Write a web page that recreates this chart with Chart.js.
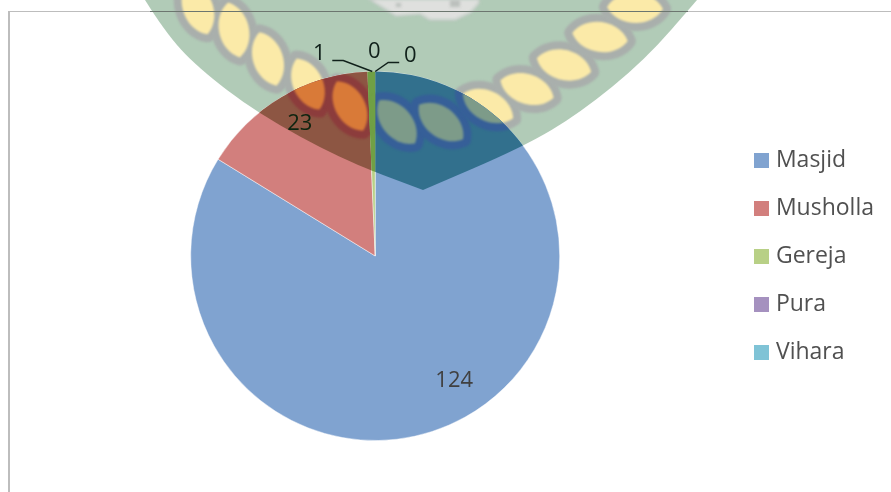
<!DOCTYPE html>
<html>
<head>
<meta charset="utf-8">
<style>
  html, body { margin: 0; padding: 0; background: #fff; }
  #wrap { width: 891px; height: 492px; }
</style>
<script src="https://cdn.jsdelivr.net/npm/chart.js@4/dist/chart.umd.min.js"></script>
</head>
<body>
<div id="wrap"><canvas id="chart" width="891" height="492"></canvas></div>
<script>
// Places of worship by type
const categories = ['Masjid', 'Musholla', 'Gereja', 'Pura', 'Vihara'];
const counts = [124, 23, 1, 0, 0];
const sliceColors = ['#80a3d0', '#d27f7d', '#b8d086', '#a591bf', '#7fc3d6'];

// Value label placement, in pixels from the slice's outer mid point
const labelOffsets = [[-11, -36], [18, 27], [-52, -18], [-1, -20], [35, -16]];
const labelColors = ['#404040', '#0d2410', '#10201a', '#10201a', '#10201a'];
// Leader lines of the thin slices, same reference point
const leaders = [null, null, [[-39, -11], [-28, -11], [1, 0]], null, [[24, -9], [13, -9], [0, 0]]];

// Crest printed across the page
const crestOutline = [
  [145, 0], [165, 32], [197, 67], [257, 113], [343, 160], [423, 190],
  [523, 147], [580, 113], [645, 60], [697, 0]
];
const crestLeaves = [
  [198, 8, 70], [234, 30, 78], [268, 59, 72], [308, 84, 66], [350, 106, 62],
  [397, 122, 50], [441, 122, 38], [488, 106, 26], [527, 89, 18], [564, 65, 14],
  [600, 37, 8], [635, 8, 2]
];
const crestPaper = { body: '#b1cbb7', rope: '#a9afac', leaf: '#fbeaa8' };
const crestTints = [
  { body: '#32708d', rope: '#365f98', leaf: '#7d9b89' },
  { body: '#8d5643', rope: '#8c3c3c', leaf: '#d97a38' },
  { body: '#70a045', rope: '#70a045', leaf: '#70a045' }
];

function crestBodyPath(ctx) {
  ctx.beginPath();
  ctx.moveTo(crestOutline[0][0], crestOutline[0][1]);
  for (let i = 1; i < crestOutline.length - 1; i++) {
    const mx = (crestOutline[i][0] + crestOutline[i + 1][0]) / 2;
    const my = (crestOutline[i][1] + crestOutline[i + 1][1]) / 2;
    if (i === 5) { ctx.lineTo(crestOutline[i][0], crestOutline[i][1]); ctx.lineTo(mx, my); }
    else ctx.quadraticCurveTo(crestOutline[i][0], crestOutline[i][1], mx, my);
  }
  ctx.lineTo(697, 0);
  ctx.closePath();
}

function leafPath(ctx, cx, cy, deg) {
  const a = deg * Math.PI / 180;
  const c = Math.cos(a), s = Math.sin(a);
  const pt = (u, v) => [cx + u * c - v * s, cy + u * s + v * c];
  ctx.beginPath();
  ctx.moveTo(...pt(-28, 0));
  ctx.bezierCurveTo(...pt(-17, -20), ...pt(17, -20), ...pt(28, 0));
  ctx.bezierCurveTo(...pt(17, 20), ...pt(-17, 20), ...pt(-28, 0));
  ctx.closePath();
}

function drawCrest(ctx, tint) {
  ctx.save();
  crestBodyPath(ctx);
  ctx.fillStyle = tint.body;
  ctx.fill();
  crestBodyPath(ctx);
  ctx.clip();
  ctx.filter = 'blur(1.2px)';
  ctx.strokeStyle = tint.rope;
  ctx.lineWidth = 16;
  ctx.lineJoin = 'round';
  for (const [cx, cy, deg] of crestLeaves) {
    leafPath(ctx, cx, cy, deg);
    ctx.stroke();
  }
  ctx.fillStyle = tint.leaf;
  for (const [cx, cy, deg] of crestLeaves) {
    leafPath(ctx, cx, cy, deg);
    ctx.fill();
  }
  ctx.restore();
}

function drawEmblem(ctx) {
  ctx.save();
  ctx.filter = 'blur(1.5px)';
  ctx.beginPath();
  ctx.moveTo(372, 0);
  ctx.lineTo(385, 8);
  ctx.lineTo(396, 15);
  ctx.lineTo(420, 13);
  ctx.lineTo(430, 19);
  ctx.lineTo(455, 19);
  ctx.lineTo(470, 12);
  ctx.lineTo(478, 3);
  ctx.lineTo(478, 0);
  ctx.closePath();
  ctx.fillStyle = '#dfe0de';
  ctx.strokeStyle = '#c7ceca';
  ctx.lineWidth = 3;
  ctx.stroke();
  ctx.fill();
  ctx.fillStyle = '#bcc0bd';
  ctx.fillRect(450, 0, 10, 7);
  ctx.fillRect(396, 3, 5, 4);
  ctx.restore();
}

// Small colour squares for the legend
const swatches = sliceColors.map(color => {
  const c = document.createElement('canvas');
  c.width = 15;
  c.height = 15;
  const g = c.getContext('2d');
  g.fillStyle = color;
  g.fillRect(0, 0, 15, 15);
  return c;
});

const pagePlugin = {
  id: 'page',
  beforeDatasetsDraw(chart) {
    const ctx = chart.ctx;
    // crest on the paper
    drawCrest(ctx, crestPaper);
    drawEmblem(ctx);
    // chart frame: top and left edges only
    ctx.fillStyle = '#bdbdbd';
    ctx.fillRect(8, 11, 2, 481);
    ctx.fillRect(8, 11, 883, 1);
    ctx.fillStyle = '#6c766f';
    ctx.fillRect(150, 11, 538, 1);
  },
  afterDatasetsDraw(chart) {
    const ctx = chart.ctx;
    const arcs = chart.getDatasetMeta(0).data;
    // crest showing through each slice
    crestTints.forEach((tint, i) => {
      const a = arcs[i];
      ctx.save();
      ctx.beginPath();
      ctx.moveTo(a.x, a.y);
      ctx.arc(a.x, a.y, a.outerRadius, a.startAngle, a.endAngle);
      ctx.closePath();
      ctx.clip();
      drawCrest(ctx, tint);
      ctx.restore();
    });
    // value labels and leaders
    ctx.font = '22px "Open Sans"';
    ctx.textAlign = 'center';
    ctx.textBaseline = 'middle';
    arcs.forEach((a, i) => {
      const mid = (a.startAngle + a.endAngle) / 2;
      const ox = a.x + a.outerRadius * Math.cos(mid);
      const oy = a.y + a.outerRadius * Math.sin(mid);
      if (leaders[i]) {
        ctx.beginPath();
        leaders[i].forEach(([dx, dy], k) => {
          if (k) ctx.lineTo(ox + dx, oy + dy); else ctx.moveTo(ox + dx, oy + dy);
        });
        ctx.strokeStyle = '#10201a';
        ctx.lineWidth = 1.5;
        ctx.stroke();
      }
      ctx.fillStyle = labelColors[i];
      ctx.fillText(String(counts[i]), ox + labelOffsets[i][0], oy + labelOffsets[i][1]);
    });
  }
};

new Chart(document.getElementById('chart'), {
  type: 'pie',
  data: {
    labels: categories,
    datasets: [{
      data: counts,
      backgroundColor: sliceColors,
      borderColor: 'rgba(255,255,255,0.45)',
      borderWidth: 1
    }]
  },
  options: {
    responsive: false,
    animation: false,
    layout: { padding: { top: 71, bottom: 51, left: 17, right: 7 } },
    plugins: {
      tooltip: { enabled: false },
      legend: {
        position: 'right',
        align: 'center',
        labels: {
          usePointStyle: true,
          pointStyleWidth: 6,
          boxHeight: 15,
          padding: 25,
          color: '#505050',
          font: { family: '"Open Sans"', size: 23 },
          generateLabels(chart) {
            return Chart.overrides.pie.plugins.legend.labels.generateLabels(chart)
              .map((item, i) => ({ ...item, pointStyle: swatches[i] }));
          }
        }
      }
    }
  },
  plugins: [pagePlugin]
});
</script>
</body>
</html>
